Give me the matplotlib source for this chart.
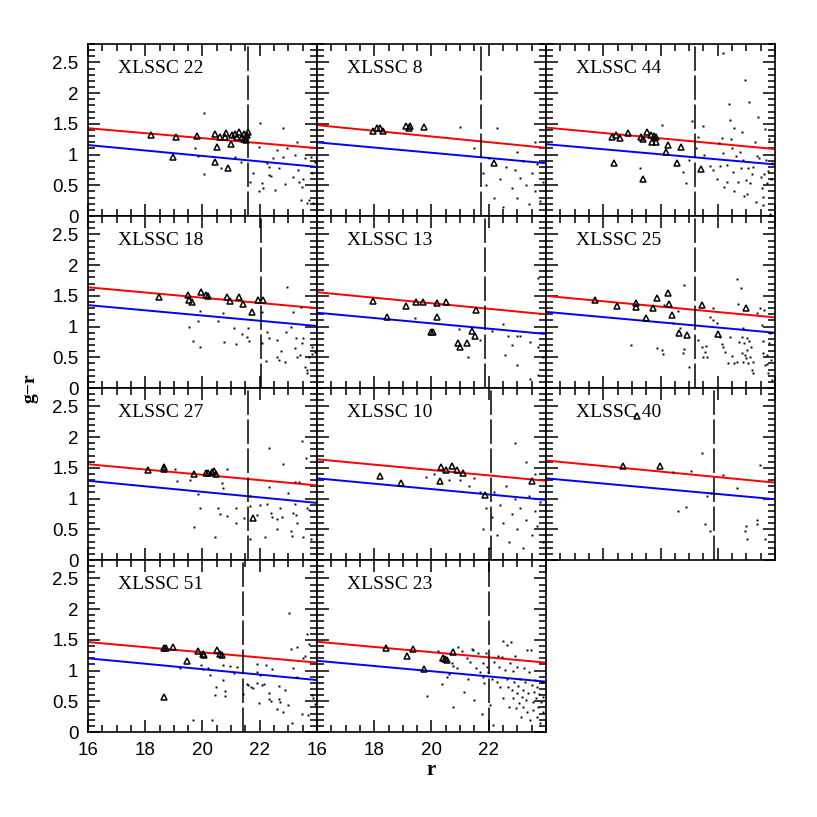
import numpy as np
import matplotlib.pyplot as plt
from matplotlib.ticker import MultipleLocator, FuncFormatter

plt.rcParams['font.family'] = ['Liberation Sans', 'DejaVu Sans']

# Nomes dos aglomerados, na ordem dos painéis (linha por linha):
nomes = ["XLSSC 22", "XLSSC 8", "XLSSC 44",
         "XLSSC 18", "XLSSC 13", "XLSSC 25",
         "XLSSC 27", "XLSSC 10", "XLSSC 40",
         "XLSSC 51", "XLSSC 23"]

# Extremos das retas (g-r em r=16 e em r=24):
vermelha_16 = [1.43, 1.48, 1.44, 1.64, 1.56, 1.50, 1.56, 1.64, 1.62, 1.465, 1.47]
vermelha_24 = [1.105, 1.11, 1.09, 1.30, 1.20, 1.15, 1.215, 1.29, 1.26, 1.13, 1.13]
azul_16 = [1.156, 1.20, 1.17, 1.35, 1.226, 1.24, 1.29, 1.33, 1.33, 1.20, 1.16]
azul_24 = [0.80, 0.86, 0.84, 1.01, 0.88, 0.90, 0.93, 0.98, 0.99, 0.846, 0.82]

# Magnitude limite (linha tracejada):
corte_r = [21.6, 21.73, 21.2, 22.04, 21.87, 21.2, 21.6, 22.08, 21.87, 21.4, 22.0]

# Membros (triângulos) e galáxias de campo (pontos), pares (r, g-r):
tri_22 = [(18.19, 1.32), (19.07, 1.28), (18.98, 0.965), (19.82, 1.31), (20.43, 1.335),
          (20.5, 1.12), (20.43, 0.875), (20.61, 1.29), (20.82, 1.35), (20.8, 1.28),
          (20.99, 1.17), (20.89, 0.79), (21.02, 1.318), (21.14, 1.335), (21.19, 1.29),
          (21.29, 1.373), (21.37, 1.28), (21.45, 1.25), (21.52, 1.237), (21.57, 1.318),
          (21.6, 1.373), (21.45, 1.335)]
pts_22 = [(20.05, 1.67), (19.74, 1.10), (19.85, 0.98), (20.05, 0.69), (20.65, 0.79),
          (21.12, 0.955), (21.36, 0.885), (21.66, 0.56), (21.78, 0.705), (22.01, 1.52),
          (21.99, 1.13), (22.07, 0.53), (21.99, 0.40), (22.1, 0.45), (22.24, 0.86),
          (22.33, 0.80), (22.31, 0.67), (22.4, 0.65), (22.47, 0.94), (22.52, 0.425),
          (22.59, 1.075), (22.66, 0.79), (22.80, 1.43), (22.82, 0.965), (22.88, 0.52),
          (22.94, 1.10), (23.17, 0.64), (23.23, 0.99), (23.31, 1.21), (23.35, 0.75),
          (23.38, 0.56), (23.43, 0.26), (23.46, 0.48), (23.52, 0.61), (23.58, 0.94),
          (23.64, 0.205), (23.73, 0.26), (23.78, 0.965), (23.81, 0.705), (23.85, 0.205),
          (23.93, 0.885)]

tri_8 = [(17.96, 1.38), (18.1, 1.43), (18.2, 1.44), (18.3, 1.38), (19.1, 1.46),
         (19.2, 1.44), (19.25, 1.47), (19.75, 1.45), (22.2, 0.87)]
pts_8 = [(21.0, 1.45), (22.3, 1.43), (21.5, 1.10), (21.8, 0.70), (22.0, 0.95),
         (22.4, 0.60), (22.6, 0.80), (22.8, 0.45), (22.9, 0.75), (23.0, 0.30),
         (23.1, 0.62), (23.2, 0.90), (23.3, 0.50), (23.4, 0.20), (23.5, 0.70),
         (23.6, 0.40), (23.7, 0.85), (23.8, 0.25), (23.9, 0.55), (22.2, 0.30),
         (22.5, 0.15), (23.0, 1.05), (21.9, 0.50), (23.6, 1.20)]

tri_44 = [(18.29, 1.28), (18.43, 1.32), (18.58, 1.265), (18.88, 1.35), (18.375, 0.87),
          (19.31, 1.28), (19.40, 1.25), (19.54, 1.36), (19.67, 1.32), (19.78, 1.31),
          (19.84, 1.28), (19.71, 1.20), (19.84, 1.21), (19.40, 0.61), (20.25, 1.16),
          (20.19, 1.05), (20.72, 1.13), (20.56, 0.87), (21.41, 0.76)]
pts_44 = [(19.28, 0.78), (20.04, 1.48), (20.77, 0.72), (20.89, 0.53), (21.0, 0.92),
          (21.09, 1.55), (21.24, 1.11), (21.32, 1.29), (21.50, 1.47), (21.52, 0.99),
          (21.73, 0.815), (21.82, 0.75), (21.96, 0.60), (22.06, 1.19), (22.08, 0.815),
          (22.14, 1.27), (22.17, 1.03), (22.23, 0.48), (22.19, 2.66), (22.31, 0.56),
          (22.33, 0.83), (22.40, 1.82), (22.43, 1.56), (22.45, 1.25), (22.49, 1.10),
          (22.52, 0.72), (22.57, 1.44), (22.57, 0.41), (22.64, 0.97), (22.72, 0.56),
          (22.78, 1.05), (22.8, 0.78), (22.83, 1.36), (22.87, 0.92), (22.92, 0.33),
          (22.95, 2.22), (22.99, 0.59), (23.03, 0.36), (23.07, 0.78), (23.10, 1.86),
          (23.13, 0.53), (23.18, 0.69), (23.24, 0.80), (23.30, 1.21), (23.34, 0.23),
          (23.36, 0.97), (23.42, 1.62), (23.45, 0.94), (23.50, 0.63), (23.53, 0.45),
          (23.57, 0.31), (23.59, 0.18), (23.62, 0.69), (23.65, 1.41), (23.69, 0.91),
          (23.71, 0.53), (23.77, 0.74), (23.80, 1.25), (23.82, 0.04), (23.85, 0.61),
          (23.88, 0.86)]

tri_18 = [(18.48, 1.49), (19.50, 1.52), (19.53, 1.43), (19.64, 1.405), (19.94, 1.557),
          (20.12, 1.51), (20.2, 1.50), (20.84, 1.476), (20.96, 1.416), (21.29, 1.476),
          (21.40, 1.36), (21.72, 1.23), (21.95, 1.44), (22.1, 1.44)]
pts_18 = [(19.54, 1.0), (19.66, 0.765), (19.83, 1.096), (19.91, 1.25), (19.91, 0.66),
          (20.53, 1.09), (20.7, 1.215), (20.75, 0.75), (21.1, 0.97), (21.17, 0.71),
          (21.39, 0.88), (21.54, 0.825), (21.6, 0.97), (21.64, 0.765), (22.07, 1.24),
          (22.07, 0.73), (22.22, 0.44), (22.24, 0.92), (22.33, 0.81), (22.61, 0.78),
          (22.61, 0.51), (22.68, 0.455), (22.73, 0.61), (22.88, 0.43), (22.94, 1.64),
          (22.92, 0.92), (23.08, 0.99), (23.17, 1.24), (23.23, 0.645), (23.27, 0.82),
          (23.31, 0.51), (23.41, 0.54), (23.44, 1.32), (23.46, 0.73), (23.52, 0.82),
          (23.58, 0.35), (23.64, 0.29), (23.66, 0.24), (23.73, 0.51), (23.81, 0.55),
          (23.81, 0.67), (23.93, 0.59), (23.97, 0.52)]

tri_13 = [(17.94, 1.417), (18.46, 1.16), (19.11, 1.335), (19.46, 1.406), (19.71, 1.406),
          (20.18, 1.38), (20.49, 1.406), (20.20, 1.16), (20.0, 0.907), (20.04, 0.907),
          (21.43, 0.934), (21.52, 0.847), (20.94, 0.74), (20.99, 0.66), (21.23, 0.727),
          (21.54, 1.27)]
pts_13 = [(19.42, 1.135), (20.97, 0.955), (21.29, 0.50), (21.69, 0.78), (22.1, 0.934),
          (22.51, 1.04), (22.57, 0.54), (22.68, 0.847), (22.8, 0.70), (22.97, 0.375),
          (23.0, 0.847), (23.09, 0.847), (23.44, 0.755), (23.44, 0.14), (23.73, 1.79),
          (23.73, 0.66), (23.73, 0.21), (23.91, 0.51)]

tri_25 = [(17.71, 1.433), (18.49, 1.335), (19.13, 1.39), (19.13, 1.325), (19.49, 1.145),
          (19.75, 1.297), (19.87, 1.46), (20.27, 1.55), (20.30, 1.362), (20.39, 1.19),
          (20.66, 0.89), (20.91, 0.863), (21.44, 1.35), (22.02, 0.88), (22.99, 1.31)]
pts_25 = [(18.96, 0.70), (19.89, 0.646), (20.04, 0.62), (20.08, 0.554), (20.12, 1.35),
          (20.45, 1.06), (20.6, 1.26), (20.68, 0.97), (20.77, 0.576), (20.82, 0.63),
          (20.83, 1.68), (21.01, 0.337), (21.32, 0.782), (21.44, 0.673), (21.50, 0.51),
          (21.55, 0.59), (21.59, 0.684), (21.61, 0.51), (21.73, 1.16), (21.82, 1.297),
          (21.85, 1.108), (21.99, 1.064), (22.08, 0.825), (22.14, 0.717), (22.19, 0.663),
          (22.25, 0.59), (22.37, 0.413), (22.43, 0.836), (22.51, 0.52), (22.57, 0.40),
          (22.66, 1.77), (22.68, 0.43), (22.72, 1.362), (22.75, 0.755), (22.81, 1.623),
          (22.83, 0.836), (22.83, 0.576), (22.87, 0.43), (22.89, 0.983), (22.92, 0.728),
          (22.95, 0.538), (22.99, 0.483), (23.01, 0.81), (23.03, 0.62), (23.07, 0.40),
          (23.10, 0.77), (23.13, 0.51), (23.15, 0.663), (23.18, 0.294), (23.22, 0.43),
          (23.24, 0.25), (23.36, 1.215), (23.48, 1.297), (23.53, 1.03), (23.57, 0.765),
          (23.59, 0.565), (23.63, 1.27), (23.65, 0.375), (23.71, 0.538), (23.73, 0.39),
          (23.77, 0.24), (23.80, 0.74), (23.82, 0.90), (23.85, 0.456), (23.88, 0.13)]

tri_27 = [(18.08, 1.465), (18.66, 1.51), (18.66, 1.49), (19.70, 1.40), (20.11, 1.41),
          (20.2, 1.42), (20.34, 1.44), (20.40, 1.45), (20.47, 1.40), (21.78, 0.69)]
pts_27 = [(19.04, 1.49), (19.12, 1.29), (19.56, 1.30), (19.83, 1.07), (19.91, 0.84),
          (19.72, 0.53), (20.44, 0.37), (20.53, 0.84), (20.61, 0.75), (20.67, 1.25),
          (20.73, 1.18), (20.84, 1.49), (20.84, 0.72), (21.17, 0.84), (21.17, 0.60),
          (21.45, 0.68), (21.66, 1.04), (21.66, 0.88), (21.66, 0.35), (21.89, 0.73),
          (22.01, 0.895), (22.18, 0.38), (22.24, 0.91), (22.33, 1.82), (22.33, 1.19),
          (22.38, 0.76), (22.42, 0.70), (22.59, 0.50), (22.61, 0.66), (22.71, 0.84),
          (22.77, 0.70), (22.82, 1.56), (22.99, 1.09), (23.08, 0.48), (23.12, 0.39),
          (23.17, 0.76), (23.22, 0.91), (23.23, 1.27), (23.27, 0.73), (23.31, 0.61),
          (23.38, 1.27), (23.46, 1.93), (23.52, 0.38), (23.62, 1.655), (23.64, 0.84),
          (23.73, 0.81), (23.78, 0.34)]

tri_10 = [(18.20, 1.37), (18.93, 1.25), (20.30, 1.29), (20.33, 1.51), (20.5, 1.465),
          (20.72, 1.53), (20.89, 1.465), (21.1, 1.416), (21.87, 1.06), (23.51, 1.29)]
pts_10 = [(19.8, 1.35), (20.1, 1.40), (20.6, 1.30), (21.0, 1.30), (21.3, 1.20),
          (21.5, 1.33), (21.7, 1.10), (21.9, 0.85), (22.1, 0.70), (22.2, 1.10),
          (22.3, 0.40), (22.4, 0.90), (22.5, 0.60), (22.6, 1.20), (22.7, 0.30),
          (22.8, 0.75), (22.9, 1.00), (23.0, 0.50), (23.1, 0.85), (23.2, 0.20),
          (23.3, 0.65), (23.4, 1.05), (23.5, 0.40), (23.6, 0.80), (23.7, 0.55),
          (23.8, 0.95), (23.9, 0.30), (22.0, 0.20), (21.8, 0.50), (23.3, 1.60),
          (23.6, 1.40), (22.9, 1.90)]

tri_40 = [(18.70, 1.53), (19.98, 1.53), (19.17, 2.344)]
pts_40 = [(20.42, 1.44), (21.05, 1.45), (21.44, 1.736), (20.62, 0.80), (20.88, 0.857),
          (21.55, 0.58), (21.64, 1.04), (21.73, 0.47), (21.75, 1.096), (22.17, 1.38),
          (22.66, 1.177), (22.95, 0.477), (22.97, 0.553), (23.01, 0.336), (23.36, 0.65),
          (23.38, 0.586), (23.48, 1.55), (23.65, 0.34)]

tri_51 = [(18.66, 1.37), (18.72, 1.37), (18.96, 1.38), (19.45, 1.16), (19.84, 1.32),
          (20.03, 1.27), (20.05, 1.25), (20.52, 1.34), (20.61, 1.265), (20.68, 1.25),
          (18.66, 0.565)]
pts_51 = [(19.21, 1.04), (19.68, 0.20), (19.95, 1.09), (20.03, 1.03), (20.2, 1.05),
          (20.26, 0.93), (20.32, 0.20), (20.44, 0.60), (20.46, 0.74), (20.70, 1.09),
          (20.70, 0.84), (20.8, 0.66), (20.8, 0.59), (20.96, 1.07), (21.10, 0.955),
          (21.19, 1.06), (21.43, 0.62), (21.57, 0.79), (21.6, 0.77), (21.69, 0.74),
          (21.78, 0.71), (21.89, 1.11), (21.89, 0.98), (21.91, 0.80), (21.96, 0.47),
          (22.01, 0.93), (22.07, 0.77), (22.15, 0.78), (22.22, 1.09), (22.33, 0.63),
          (22.33, 0.54), (22.38, 0.51), (22.42, 1.02), (22.61, 0.37), (22.68, 0.75),
          (22.68, 0.54), (22.71, 0.49), (22.82, 0.33), (22.88, 0.68), (22.99, 0.44),
          (23.03, 1.94), (23.08, 1.35), (23.12, 0.14), (23.17, 1.05), (23.29, 1.39),
          (23.31, 0.90), (23.46, 0.30), (23.52, 1.20), (23.58, 1.23), (23.64, 1.6),
          (23.7, 0.28), (23.73, 1.44), (23.81, 0.60), (23.87, 0.55), (23.93, 0.46)]

tri_23 = [(18.41, 1.36), (19.13, 1.238), (19.37, 1.346), (19.74, 1.026), (20.41, 1.21),
          (20.47, 1.19), (20.53, 1.17), (20.74, 1.30)]
pts_23 = [(19.85, 0.59), (20.24, 1.32), (20.30, 1.17), (20.35, 0.79), (20.53, 0.90),
          (20.62, 0.945), (20.70, 1.12), (20.74, 0.41), (20.76, 1.075), (20.88, 1.04),
          (20.94, 1.39), (21.05, 1.32), (21.14, 0.657), (21.23, 1.20), (21.29, 0.87),
          (21.34, 1.145), (21.40, 1.35), (21.46, 1.335), (21.50, 0.52), (21.55, 1.037),
          (21.64, 1.28), (21.69, 0.98), (21.75, 0.30), (21.79, 0.90), (21.81, 1.12),
          (21.83, 0.80), (21.90, 1.29), (21.93, 1.064), (21.98, 0.98), (22.04, 0.44),
          (22.10, 0.87), (22.16, 0.115), (22.18, 1.145), (22.28, 0.82), (22.33, 1.238),
          (22.37, 1.064), (22.39, 0.74), (22.45, 1.227), (22.49, 1.487), (22.51, 0.55),
          (22.57, 1.01), (22.63, 1.416), (22.65, 0.87), (22.68, 0.74), (22.72, 0.41),
          (22.74, 1.12), (22.77, 1.47), (22.80, 0.68), (22.83, 0.998), (22.86, 0.55),
          (22.88, 0.82), (22.92, 1.238), (22.95, 0.386), (22.98, 1.064), (23.0, 0.63),
          (23.03, 0.75), (23.07, 0.467), (23.09, 0.87), (23.11, 0.25), (23.15, 0.576),
          (23.18, 0.684), (23.21, 0.413), (23.23, 1.037), (23.27, 0.82), (23.30, 0.52),
          (23.32, 1.335), (23.35, 0.33), (23.38, 0.63), (23.42, 0.98), (23.44, 0.196),
          (23.46, 1.335), (23.50, 0.766), (23.53, 0.494), (23.56, 0.36), (23.58, 0.657),
          (23.61, 0.847), (23.65, 0.55), (23.67, 0.25), (23.70, 0.74), (23.73, 0.413),
          (23.77, 0.62), (23.79, 0.14), (23.81, 0.494), (23.85, 0.82), (23.88, 0.33),
          (23.91, 0.576)]

triangulos = [tri_22, tri_8, tri_44, tri_18, tri_13, tri_25, tri_27, tri_10, tri_40, tri_51, tri_23]
pontos = [pts_22, pts_8, pts_44, pts_18, pts_13, pts_25, pts_27, pts_10, pts_40, pts_51, pts_23]


# Função utilizada para ajustar os eixos de um painel:
def ajustar_eixos(ax, mostra_x, mostra_y):
    ax.set_xlim(16, 24)
    ax.set_ylim(0, 2.8)
    ax.xaxis.set_major_locator(MultipleLocator(2))
    ax.xaxis.set_minor_locator(MultipleLocator(0.5))
    ax.yaxis.set_major_locator(MultipleLocator(0.5))
    ax.yaxis.set_minor_locator(MultipleLocator(0.1))
    ax.tick_params(which='both', direction='in', top=True, right=True, width=1.1)
    ax.tick_params(which='major', length=8.5, labelsize=13.5, pad=7)
    ax.tick_params(which='minor', length=5)
    ax.xaxis.set_major_formatter(FuncFormatter(lambda v, p: "" if v > 23 else f"{v:g}"))
    ax.yaxis.set_major_formatter(FuncFormatter(lambda v, p: "" if v > 2.6 else f"{v:g}"))
    if not mostra_x:
        ax.tick_params(labelbottom=False)
    if not mostra_y:
        ax.tick_params(labelleft=False)
    for lado in ax.spines.values():
        lado.set_linewidth(1.2)


fig = plt.figure(figsize=(8.17, 8.17), dpi=100)
grade = fig.add_gridspec(4, 3, left=0.1077, right=0.9486, top=0.9461, bottom=0.104,
                         hspace=0, wspace=0)

for i, nome in enumerate(nomes):
    linha, coluna = divmod(i, 3)
    ax = fig.add_subplot(grade[linha, coluna])

    # Retas das sequências vermelha e azul:
    ax.plot([16, 24], [vermelha_16[i], vermelha_24[i]], color='#ff0000', lw=1.4)
    ax.plot([16, 24], [azul_16[i], azul_24[i]], color='#0000ff', lw=1.4)

    # Linha tracejada do limite em magnitude:
    ax.axvline(corte_r[i], color='black', lw=1.1, dashes=(16, 3))

    p = np.array(pontos[i])
    ax.plot(p[:, 0], p[:, 1], 's', color='black', ms=1.4, mew=0)

    t = np.array(triangulos[i])
    ax.plot(t[:, 0], t[:, 1], '^', mfc='none', mec='black', ms=4.6, mew=1.1)

    ax.text(0.13, 0.855, nome, transform=ax.transAxes, va='center', ha='left',
            fontsize=14, family=['Liberation Serif', 'DejaVu Serif'])

    ajustar_eixos(ax, linha == 3, coluna == 0)

fig.text(0.037, 0.525, 'g\u2212r', rotation=90, va='center', ha='center',
         fontsize=14, fontweight='bold', family=['Liberation Serif', 'DejaVu Serif'])
fig.text(0.5283, 0.058, 'r', va='center', ha='center',
         fontsize=15, fontweight='bold', family=['Liberation Serif', 'DejaVu Serif'])

plt.savefig('out.png', dpi=100)
